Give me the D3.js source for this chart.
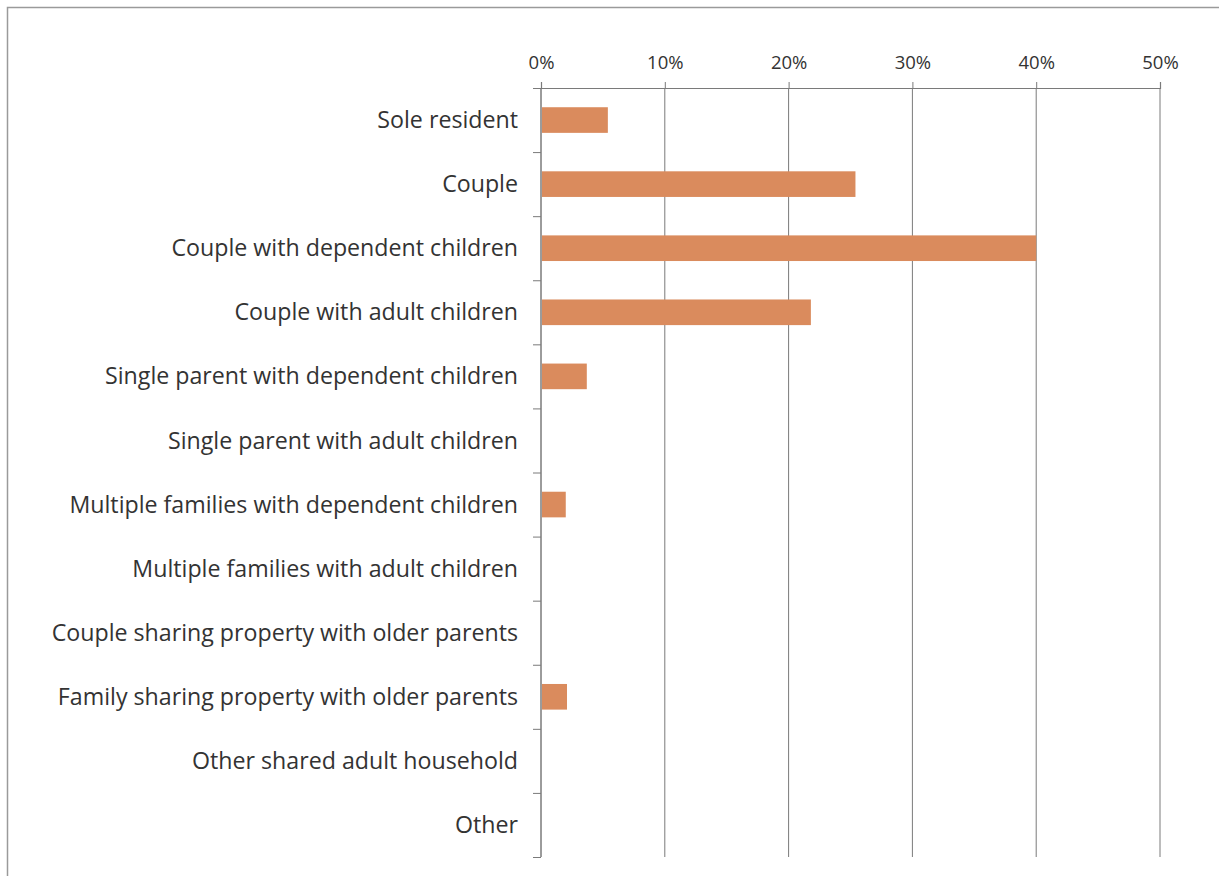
<!DOCTYPE html>
<html>
<head>
<meta charset="utf-8">
<script src="https://cdn.jsdelivr.net/npm/d3@7"></script>
<style>
  html, body { margin: 0; padding: 0; background: #fff; }
  svg { display: block; }
  text { font-family: "Open Sans", "Noto Sans", sans-serif; fill: #333; }
</style>
</head>
<body>
<svg id="chart" width="1219" height="876"></svg>
<script>
const categories = [
  "Sole resident",
  "Couple",
  "Couple with dependent children",
  "Couple with adult children",
  "Single parent with dependent children",
  "Single parent with adult children",
  "Multiple families with dependent children",
  "Multiple families with adult children",
  "Couple sharing property with older parents",
  "Family sharing property with older parents",
  "Other shared adult household",
  "Other"
];
const values = [5.4, 25.4, 40.0, 21.8, 3.7, 0, 2.0, 0, 0, 2.1, 0, 0];
const tickValues = [0, 10, 20, 30, 40, 50];

const svg = d3.select("#chart");
const W = 1219, H = 876;

// outer frame
svg.append("rect")
  .attr("x", 7.5).attr("y", 7.5)
  .attr("width", W + 20).attr("height", H + 20)
  .attr("fill", "none").attr("stroke", "#9a9a9a").attr("stroke-width", 1.5);

const margin = { left: 541, right: 59, top: 88, bottom: 19 };
const plotW = W - margin.left - margin.right;
const plotH = H - margin.top - margin.bottom;

const x = d3.scaleLinear().domain([0, 50]).range([0, plotW]);

const g = svg.append("g").attr("transform", `translate(${margin.left},${margin.top})`);

// vertical gridlines
g.selectAll("line.grid").data(tickValues).join("line")
  .attr("class", "grid")
  .attr("x1", d => x(d)).attr("x2", d => x(d))
  .attr("y1", 0).attr("y2", plotH)
  .attr("stroke", "#7a7a7a").attr("stroke-width", 1);

// top axis
const xAxis = d3.axisTop(x).tickValues(tickValues).tickFormat(d => d + "%").tickSize(6).tickPadding(13);
const xa = g.append("g").call(xAxis);
xa.select(".domain").attr("stroke", "#7a7a7a").attr("stroke-width", 1.2);
xa.selectAll(".tick line").attr("stroke", "#7a7a7a");
xa.selectAll(".tick text").attr("font-size", 18.5).attr("fill", "#333")
  .style("font-family", '"Open Sans", sans-serif');

// left axis with ticks at band boundaries
const boundaries = d3.range(categories.length + 1).map(i => i * plotH / categories.length);
const yb = d3.scaleLinear().domain([0, plotH]).range([0, plotH]);
const ya = g.append("g").call(d3.axisLeft(yb).tickValues(boundaries).tickSize(8).tickFormat(""));
ya.select(".domain").attr("stroke", "#7a7a7a").attr("d", `M0,0V${plotH}`);
ya.selectAll(".tick line").attr("stroke", "#7a7a7a");

// category labels
const step = plotH / categories.length;
g.selectAll("text.cat").data(categories).join("text")
  .attr("class", "cat")
  .attr("x", -23)
  .attr("y", (d, i) => (i + 0.5) * step)
  .attr("dy", "0.35em")
  .attr("text-anchor", "end")
  .attr("font-size", 23.2)
  .text(d => d);

// bars
const ybar = d3.scaleBand().domain(categories).range([0, plotH]).paddingInner(0.6).paddingOuter(0.3);
g.selectAll("rect.bar").data(values).join("rect")
  .attr("class", "bar")
  .attr("x", x(0) + 1)
  .attr("y", (d, i) => ybar(categories[i]))
  .attr("width", d => Math.max(0, x(d) - x(0) - 1))
  .attr("height", ybar.bandwidth())
  .attr("fill", "#DA8B5D")
  .attr("display", d => d > 0 ? null : "none");
</script>
</body>
</html>
